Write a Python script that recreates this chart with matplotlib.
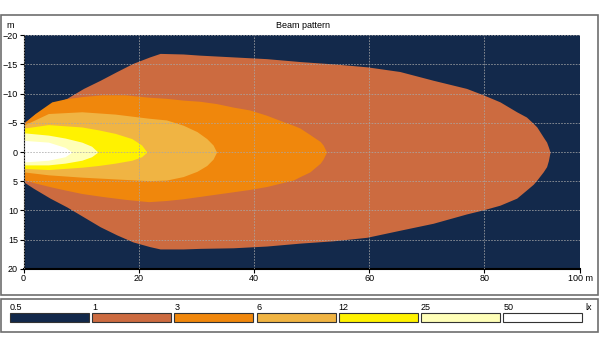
import matplotlib
matplotlib.use('Agg')
import matplotlib.pyplot as plt
from matplotlib.patches import Rectangle

plt.rcParams['font.family'] = ['Liberation Sans', 'DejaVu Sans']

# Illuminance levels (lx) and their colours
levels = ['0.5', '1', '3', '6', '12', '25', '50']
colors = ['#13294b', '#cc6b40', '#f0870c', '#f0b443', '#fff200', '#ffffb8', '#ffffff']

# Contour outlines: distance x (m), top and bottom edge (m)
x_1 = [0, 1.7, 4.6, 7.5, 10.4, 13.3, 16.2, 19.0, 21.9, 23.7, 27.7, 30.6, 36.4, 42.2, 48, 53.8,
       59.6, 65.3, 71.1, 76.9, 79.8, 82.7, 85.6, 87.3, 88.5, 89.1, 90.2, 90.8, 91.1, 91.4]
top_1 = [-5, -6.3, -8.0, -9.2, -10.9, -12.3, -13.8, -15.2, -16.3, -16.9, -16.8, -16.6, -16.3, -16.0,
         -15.5, -15.1, -14.6, -13.8, -12.3, -10.9, -9.8, -8.6, -6.9, -6.0, -4.9, -4.3, -2.6, -1.7, -0.9, 0]
bot_1 = [5.1, 6.2, 7.9, 9.4, 11.1, 12.8, 14.2, 15.4, 16.2, 16.6, 16.6, 16.5, 16.4, 16.1, 15.6, 15.2,
         14.6, 13.4, 12.2, 10.6, 9.9, 9.1, 7.9, 6.5, 5.5, 4.8, 3.4, 2.5, 1.5, 0]

x_3 = [0, 2.0, 4.9, 7.2, 10.1, 13.6, 17.6, 21.7, 24.8, 27.7, 30.6, 33.5, 36.4, 39.3, 42.2, 45.1,
       46.8, 48.0, 49.7, 50.3, 51.5, 52.0, 52.6]
top_3 = [-4.9, -6.6, -8.6, -9.1, -9.5, -9.8, -9.8, -9.4, -9.2, -8.9, -8.7, -8.3, -7.7, -7.2, -6.3,
         -5.2, -4.6, -4.1, -3.0, -2.6, -1.8, -1.2, 0]
bot_3 = [4.7, 5.3, 6.0, 6.5, 7.1, 7.6, 8.1, 8.5, 8.3, 8.0, 7.6, 7.2, 6.8, 6.4, 5.9, 5.2,
         4.8, 4.2, 3.4, 2.9, 1.9, 1.2, 0]

x_6 = [0, 4.3, 10.1, 15.9, 21.7, 24.8, 27.7, 30.1, 31.8, 32.9, 33.5]
top_6 = [-4.6, -6.6, -6.9, -6.5, -5.8, -5.5, -4.6, -3.5, -2.3, -1.2, 0]
bot_6 = [3.4, 3.9, 4.3, 4.6, 4.9, 4.8, 4.2, 3.3, 2.3, 1.2, 0]

x_12 = [0, 4.3, 10.1, 13.0, 15.9, 18.8, 20.5, 21.4]
top_12 = [-4.1, -4.7, -4.3, -3.8, -3.2, -2.3, -1.2, 0]
bot_12 = [2.8, 3.0, 2.6, 2.3, 1.9, 1.4, 0.8, 0]

x_25 = [0, 4.3, 7.2, 10.1, 11.8, 12.9]
top_25 = [-3.3, -2.9, -2.4, -1.7, -1.0, 0]
bot_25 = [2.2, 2.2, 1.9, 1.4, 0.8, 0]

x_50 = [0, 4.3, 7.2, 8.4]
top_50 = [-2.0, -1.7, -0.8, 0]
bot_50 = [1.7, 1.4, 0.8, 0]

xticks = [0, 20, 40, 60, 80, 96.6]
xticklabels = ['0', '20', '40', '60', '80', '100 m']
yticks = [-20, -15, -10, -5, 0, 5, 10, 15, 20]

fs = 6.5

fig = plt.figure(figsize=(6.0, 3.61), dpi=100)

# panel frames (behind the axes)
fig.patches.append(Rectangle((1/600, 1 - 295/361), 597/600, 280/361, transform=fig.transFigure,
                             facecolor='white', edgecolor='#6e6e6e', lw=1.2, zorder=-10))
fig.patches.append(Rectangle((1/600, 1 - 332/361), 597/600, 33/361, transform=fig.transFigure,
                             facecolor='white', edgecolor='#6e6e6e', lw=1.2, zorder=-10))

ax = fig.add_axes([23.6/600, 1 - 268.8/361, (580 - 23.6)/600, (268.8 - 35.3)/361])
ax.set_facecolor(colors[0])

shapes = [(x_1, top_1, bot_1), (x_3, top_3, bot_3), (x_6, top_6, bot_6),
          (x_12, top_12, bot_12), (x_25, top_25, bot_25), (x_50, top_50, bot_50)]
for (xs, tp, bt), c in zip(shapes, colors[1:]):
    ax.fill_between(xs, tp, bt, color=c, lw=0)

ax.set_xlim(0, 96.6)
ax.set_ylim(20, -20)
ax.set_xticks(xticks)
ax.set_xticklabels(xticklabels)
ax.set_yticks(yticks)
ax.tick_params(labelsize=fs, length=3, width=0.8, pad=1)
for s in ['top', 'right']:
    ax.spines[s].set_visible(False)
ax.spines['bottom'].set_linewidth(1.5)
ax.spines['left'].set_linewidth(0.8)
ax.grid(True, color='#a8a8a8', linestyle=(0, (2, 1.5)), linewidth=0.6, alpha=0.85)
ax.set_axisbelow(False)

fig.text(303/600, 1 - 25/361, 'Beam pattern', ha='center', va='center', fontsize=fs)
fig.text(6/600, 1 - 25/361, 'm', ha='left', va='center', fontsize=fs)

# legend swatches
for i, (lab, c) in enumerate(zip(levels, colors)):
    x0 = 10 + i * 82.2
    fig.patches.append(Rectangle((x0/600, 1 - 322/361), 79/600, 9/361, transform=fig.transFigure,
                                 facecolor=c, edgecolor='#333333', lw=0.8))
    fig.text(x0/600, 1 - 308/361, lab, ha='left', va='center', fontsize=fs)
fig.text(585/600, 1 - 308/361, 'lx', ha='left', va='center', fontsize=fs)

fig.savefig('out.png', dpi=100)
